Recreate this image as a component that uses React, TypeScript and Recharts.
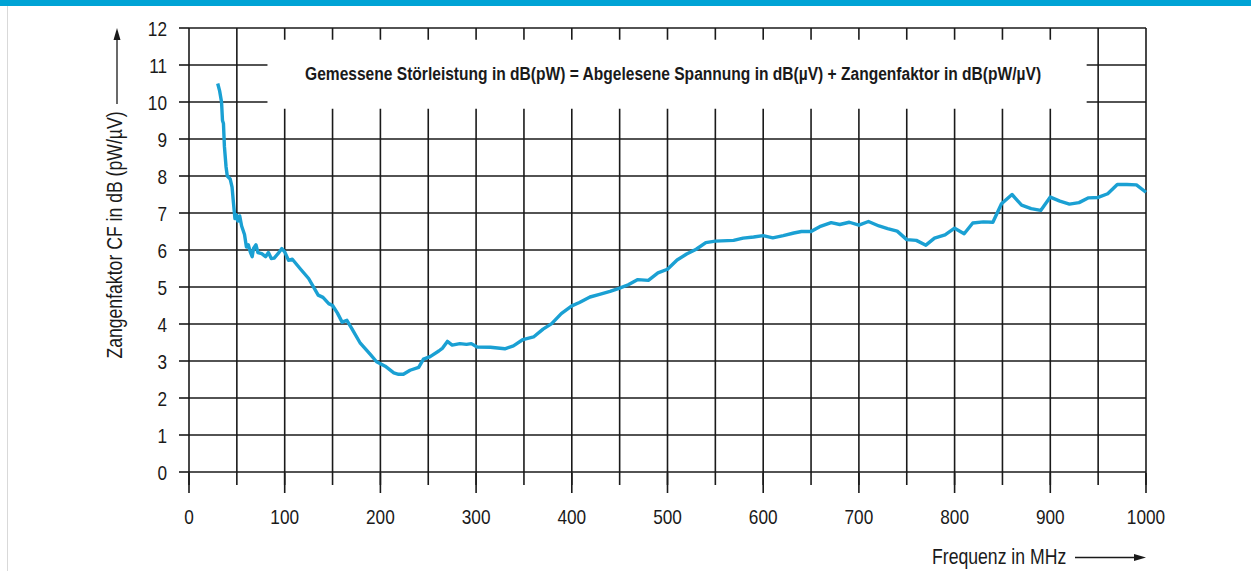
import React from 'react'
import { LineChart, Line, XAxis, YAxis, CartesianGrid, ReferenceArea, Label } from 'recharts'

// Frequenz in MHz / Zangenfaktor CF in dB(pW/µV)
const freq = [
  30, 32, 34, 35, 36, 37, 38.7, 40, 43, 45, 46.5, 48, 49.5, 51, 53, 55, 58, 60, 62, 64,
  66, 67.5, 70, 72, 76, 80, 83, 86, 89, 93, 97, 100, 104, 108, 116, 125, 135, 140, 146, 150,
  155, 160, 165, 170, 179, 189, 196, 205, 214, 219, 224, 231, 240, 245, 252, 261, 265, 270, 275, 283,
  290, 295, 301, 315, 330, 339, 349, 360, 370, 379, 389, 400, 408, 419, 429, 440, 450, 459, 469, 480,
  490, 500, 510, 520, 530, 540, 550, 569, 579, 590, 600, 610, 621, 632, 640, 650, 659, 671, 680, 690,
  700, 710, 721, 730, 740, 750, 760, 770, 779, 790, 800, 810, 819, 830, 840, 849, 860, 870, 880, 890,
  900, 910, 920, 930, 940, 950, 960, 970, 980, 990, 1000,
]
const cf = [
  10.5, 10.3, 10.0, 9.5, 9.42, 8.8, 8.25, 8.0, 7.92, 7.7, 7.26, 6.85, 6.95, 6.78, 6.92, 6.65, 6.42, 6.08, 6.14, 5.95,
  5.82, 6.05, 6.14, 5.93, 5.9, 5.82, 5.93, 5.77, 5.78, 5.9, 6.04, 5.95, 5.72, 5.75, 5.5, 5.23, 4.78, 4.72, 4.55, 4.5,
  4.3, 4.05, 4.1, 3.88, 3.48, 3.19, 2.98, 2.86, 2.68, 2.64, 2.64, 2.75, 2.83, 3.05, 3.12, 3.27, 3.35, 3.53, 3.43, 3.47,
  3.45, 3.47, 3.38, 3.37, 3.33, 3.41, 3.58, 3.65, 3.86, 4.01, 4.28, 4.49, 4.58, 4.73, 4.8, 4.88, 4.97, 5.06, 5.2, 5.18,
  5.38, 5.48, 5.73, 5.89, 6.02, 6.2, 6.24, 6.26, 6.32, 6.35, 6.39, 6.33, 6.39, 6.46, 6.5, 6.5, 6.63, 6.74, 6.69, 6.75,
  6.67, 6.77, 6.65, 6.58, 6.51, 6.28, 6.26, 6.13, 6.32, 6.41, 6.59, 6.44, 6.73, 6.76, 6.75, 7.25, 7.5, 7.21, 7.12, 7.07,
  7.43, 7.32, 7.24, 7.28, 7.41, 7.42, 7.52, 7.77, 7.77, 7.76, 7.56,
]

const minorTicks = [0, 50, 100, 150, 200, 250, 300, 350, 400, 450, 500, 550, 600, 650, 700, 750, 800, 850, 900, 950, 1000]
const majorTicks = [0, 100, 200, 300, 400, 500, 600, 700, 800, 900, 1000]
const yTicks = [0, 1, 2, 3, 4, 5, 6, 7, 8, 9, 10, 11, 12]

const formula = 'Gemessene Störleistung in dB(pW) = Abgelesene Spannung in dB(µV) + Zangenfaktor in dB(pW/µV)'
const yTitle = 'Zangenfaktor CF in dB (pW/µV)'
const xTitle = 'Frequenz in MHz'

const data = freq.map((f, i) => ({ f, cf: cf[i] }))

// no narrow font installed, so Liberation Sans is squeezed horizontally
const font = '"Liberation Sans", Arial, sans-serif'
const squeeze = 0.82
const ink = '#1a1a1a'
const gridLine = { stroke: ink, strokeWidth: 1.6 }

const NarrowText = ({ x, y, anchor = 'start', size = 21, bold = false, dy, rotate = 0, children }: any) => (
  <g transform={`translate(${x} ${y}) rotate(${rotate})`}>
    <text
      transform={`scale(${squeeze} 1)`}
      textAnchor={anchor}
      dy={dy}
      fontSize={size}
      fontWeight={bold ? 'bold' : 'normal'}
      fontFamily={font}
      fill={ink}
    >
      {children}
    </text>
  </g>
)

const NoTick = () => <g />

const XTick = ({ x, y, payload }: any) => (
  <NarrowText x={x} y={y} anchor="middle" dy="0.71em">{payload.value}</NarrowText>
)

const YTick = ({ x, y, payload }: any) => (
  <NarrowText x={x} y={y} anchor="end" dy="0.36em">{payload.value}</NarrowText>
)

const FormulaLabel = ({ viewBox }: any) => {
  const cx = viewBox.x + viewBox.width / 2 - 4
  const cy = viewBox.y + viewBox.height / 2 + 6
  return <NarrowText x={cx} y={cy} anchor="middle" size={19} bold>{formula}</NarrowText>
}

export default function App() {
  return (
    <div style={{ position: 'absolute', left: 0, top: 0, width: 1251, height: 571, background: '#fff' }}>
      <div style={{ position: 'absolute', left: 0, top: 0, width: 1251, height: 6, background: '#00a3d5' }} />
      <div style={{ position: 'absolute', left: 7, top: 6, width: 1, height: 565, background: '#d9d9d9' }} />
      <LineChart
        width={1251}
        height={571}
        data={data}
        margin={{ top: 28, right: 105, bottom: 97, left: 188 }}
        style={{ position: 'absolute', left: 0, top: 0 }}
      >
        <CartesianGrid stroke={ink} strokeWidth={1.6} />
        <XAxis
          dataKey="f"
          type="number"
          domain={[0, 1000]}
          ticks={minorTicks}
          interval={0}
          height={1}
          tickSize={13}
          tick={<NoTick />}
          axisLine={false}
          tickLine={gridLine}
        />
        <XAxis
          xAxisId="major"
          dataKey="f"
          type="number"
          domain={[0, 1000]}
          ticks={majorTicks}
          interval={0}
          height={1}
          tickSize={20}
          tickMargin={16}
          axisLine={false}
          tickLine={gridLine}
          tick={<XTick />}
        />
        <YAxis
          type="number"
          domain={[0, 12]}
          ticks={yTicks}
          interval={0}
          width={1}
          tickSize={10}
          tickMargin={12}
          axisLine={false}
          tickLine={gridLine}
          tick={<YTick />}
        />
        <ReferenceArea x1={82} x2={938} y1={9.82} y2={11.68} fill="#fff" fillOpacity={1} stroke="none">
          <Label content={<FormulaLabel />} />
        </ReferenceArea>
        <Line
          type="linear"
          dataKey="cf"
          stroke="#1aa0d3"
          strokeWidth={3.4}
          strokeLinejoin="round"
          dot={false}
          isAnimationActive={false}
        />
      </LineChart>
      <svg width={1251} height={571} style={{ position: 'absolute', left: 0, top: 0, pointerEvents: 'none' }}>
        <NarrowText x={122} y={235} rotate={-90} anchor="middle" size={21.5}>{yTitle}</NarrowText>
        <line x1={117} y1={104} x2={117} y2={38} stroke={ink} strokeWidth={1.3} />
        <polygon points="117,28 113.5,40 120.5,40" fill={ink} />
        <NarrowText x={932} y={564} size={21.5}>{xTitle}</NarrowText>
        <line x1={1075} y1={557.5} x2={1136} y2={557.5} stroke={ink} strokeWidth={1.3} />
        <polygon points="1146,557.5 1134,554 1134,561" fill={ink} />
      </svg>
    </div>
  )
}
